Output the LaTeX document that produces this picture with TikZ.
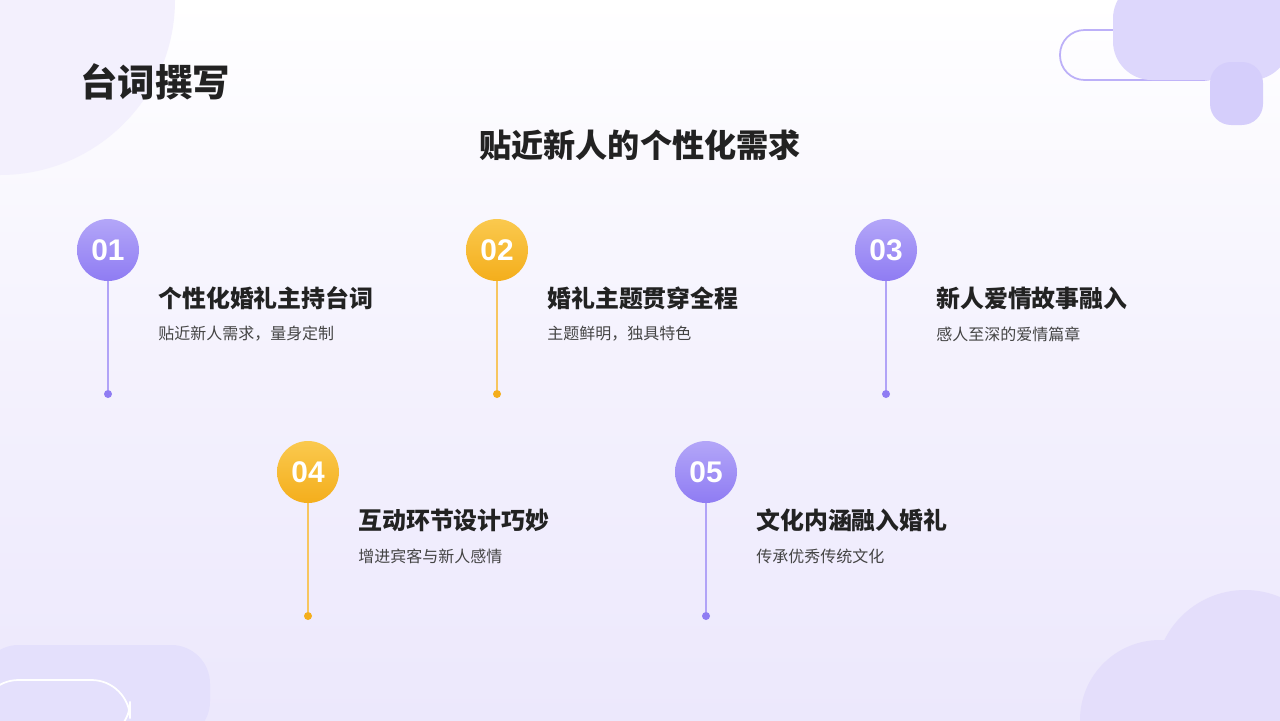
\documentclass[tikz,border=0pt]{standalone}
\usepackage{fontspec}
\setmainfont{Noto Sans CJK SC}
\newfontfamily\numfont{Liberation Sans}
\usetikzlibrary{positioning, calc}
\definecolor{bgpurple}{HTML}{E4DEFB}
\definecolor{mypurple}{HTML}{8F7CF3}
\definecolor{mypurpleL}{HTML}{B3A6F8}
\definecolor{myorange}{HTML}{F4AE1C}
\definecolor{myorangeL}{HTML}{FAC94E}
\definecolor{ink}{HTML}{222222}
\definecolor{subink}{HTML}{444444}

\begin{document}
\begin{tikzpicture}[
    x=0.02cm, y=-0.02cm,
    badge/.style={circle, minimum size=62*0.02cm, inner sep=0pt, text=white, font=\numfont\fontsize{17}{17}\selectfont\bfseries},
    heading/.style={anchor=west, inner sep=0pt, text=ink, font=\fontsize{13.6}{15}\selectfont\bfseries},
    subtext/.style={anchor=west, inner sep=0pt, text=subink, font=\fontsize{9.1}{10}\selectfont},
    enddot/.style={circle, inner sep=0pt, minimum size=8*0.02cm}
]
% background
\shade[top color=white, bottom color=bgpurple!70, middle color=white!60!bgpurple] (0,0) rectangle (1280,720);
\useasboundingbox (0,0) rectangle (1280,720);
\fill[bgpurple!45] (0,0) circle (175);
\fill[bgpurple] (1160,720) circle (80);
\fill[bgpurple] (1245,680) circle (90);
% corner decorations
\draw[mypurple!60, line width=1pt, rounded corners=14] (1060,30) rectangle (1228,80);
\fill[mypurpleL!45, rounded corners=22] (1113,-20) rectangle (1290,80);
\fill[mypurpleL!55, rounded corners=12] (1210,62) rectangle (1263,125);
\fill[mypurpleL!35, rounded corners=22] (-20,645) rectangle (210,740);
\fill[mypurpleL!35, rounded corners=22] (-20,660) rectangle (80,740);
\draw[white, line width=1pt, rounded corners=22] (-20,680) rectangle (130,740);

% titles
\node (title) at (80,82) [anchor=west, inner sep=0pt, text=ink, font=\fontsize{21.3}{23}\selectfont\bfseries] {台词撰写};
\node (subtitle) at (640,145) [inner sep=0pt, text=ink, font=\fontsize{18.3}{20}\selectfont\bfseries] {贴近新人的个性化需求};

% items
\foreach \n/\x/\y/\c/\cl/\h/\s in {
  01/108/250/mypurple/mypurpleL/个性化婚礼主持台词/{贴近新人需求，量身定制},
  02/497/250/myorange/myorangeL/婚礼主题贯穿全程/{主题鲜明，独具特色},
  03/886/250/mypurple/mypurpleL/新人爱情故事融入/感人至深的爱情篇章,
  04/308/472/myorange/myorangeL/互动环节设计巧妙/增进宾客与新人感情,
  05/706/472/mypurple/mypurpleL/文化内涵融入婚礼/传承优秀传统文化} {
  \coordinate (c\n) at (\x,\y);
  \node (dot\n) at ($(c\n)+(0,144)$) [enddot, fill=\c] {};
  \draw[\c!70, line width=0.8pt] (c\n) -- (dot\n);
  \shade[top color=\cl, bottom color=\c] (c\n) circle (31);
  \node (b\n) at (c\n) [badge] {\n};
  \node (h\n) at ($(c\n)+(50,48)$) [heading] {\h};
  \node (s\n) at ($(c\n)+(50,84)$) [subtext] {\s};
}
\end{tikzpicture}
\end{document}
